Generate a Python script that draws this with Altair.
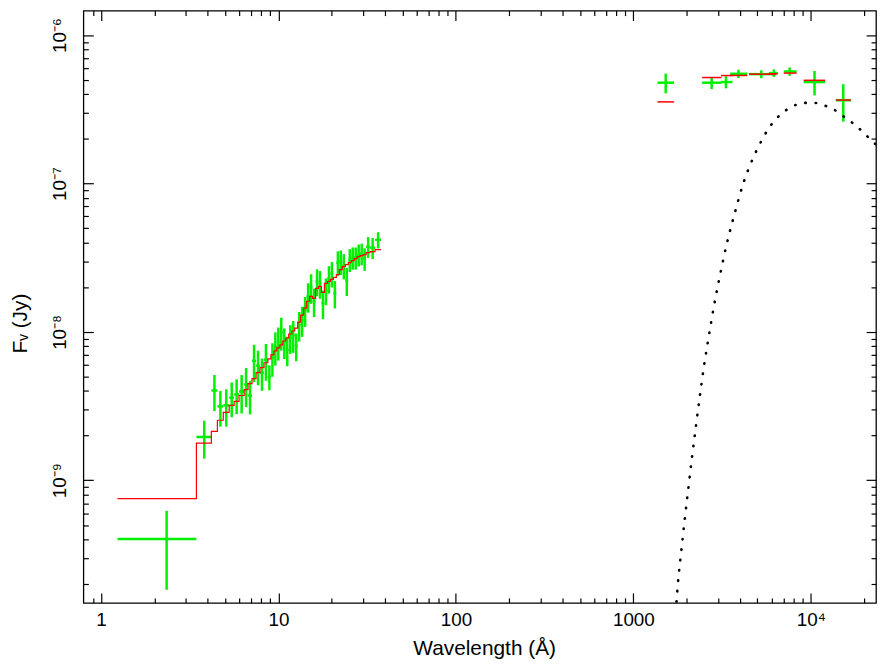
import altair as alt
import pandas as pd

# ---------------- data ----------------
# X-ray spectrum: bin edges (Angstrom), folded model, data and 1-sigma errors (Jy)
xray_edges = [1.24, 3.45, 4.19, 4.53, 4.89, 5.28, 5.63, 6.00, 6.41, 6.74, 7.10,
              7.48, 7.87, 8.29, 8.72, 9.07, 9.43, 9.79, 10.18, 10.58, 11.00,
              11.43, 11.88, 12.35, 12.84, 13.34, 13.87, 14.41, 14.98, 15.57,
              16.19, 16.82, 17.48, 18.17, 18.89, 19.63, 20.40, 21.21, 22.04,
              22.91, 23.81, 24.75, 25.72, 26.73, 27.79, 28.88, 30.02, 31.20,
              32.85, 35.04, 37.84]
xray_model = [7.52e-10, 1.78e-9, 2.14e-9, 2.54e-9, 2.87e-9, 3.20e-9, 3.40e-9,
              3.73e-9, 4.09e-9, 4.48e-9, 4.84e-9, 5.31e-9, 5.74e-9, 6.20e-9,
              6.59e-9, 7.01e-9, 7.45e-9, 7.80e-9, 8.18e-9, 8.69e-9, 9.10e-9,
              9.68e-9, 1.014e-8, 1.062e-8, 1.165e-8, 1.297e-8, 1.445e-8,
              1.609e-8, 1.738e-8, 1.685e-8, 1.965e-8, 2.027e-8, 1.848e-8,
              2.122e-8, 2.189e-8, 2.257e-8, 2.328e-8, 2.438e-8, 2.633e-8,
              2.757e-8, 2.843e-8, 2.933e-8, 3.024e-8, 3.119e-8, 3.217e-8,
              3.266e-8, 3.318e-8, 3.421e-8, 3.474e-8, 3.582e-8]
xray_flux = [4.03e-10, 1.96e-9, 4.03e-9, 3.15e-9, 3.20e-9, 3.61e-9, 3.79e-9,
             3.97e-9, 4.42e-9, 3.73e-9, 6.39e-9, 5.92e-9, 5.31e-9, 6.49e-9,
             4.99e-9, 6.69e-9, 7.93e-9, 8.56e-9, 9.98e-9, 8.56e-9, 7.57e-9,
             9.10e-9, 9.53e-9, 8.05e-9, 1.112e-8, 1.201e-8, 1.401e-8, 1.738e-8,
             1.996e-8, 1.609e-8, 2.189e-8, 2.122e-8, 1.56e-8, 1.905e-8,
             2.293e-8, 2.475e-8, 1.82e-8, 2.933e-8, 2.978e-8, 2.80e-8,
             2.223e-8, 3.071e-8, 3.168e-8, 3.168e-8, 3.318e-8, 3.37e-8,
             3.119e-8, 3.752e-8, 3.694e-8, 4.177e-8]
xray_err = [2.2e-10, 0.56e-9, 1.1e-9, 0.85e-9, 0.9e-9, 0.95e-9, 1.0e-9,
            1.15e-9, 1.3e-9, 0.95e-9, 1.8e-9, 1.55e-9, 1.3e-9, 1.8e-9, 0.95e-9,
            1.7e-9, 2.0e-9, 2.15e-9, 2.5e-9, 2.0e-9, 1.7e-9, 2.0e-9, 2.3e-9,
            1.7e-9, 2.5e-9, 2.75e-9, 3.2e-9, 3.9e-9, 4.5e-9, 3.5e-9, 4.5e-9,
            4.5e-9, 3.4e-9, 3.9e-9, 4.8e-9, 4.8e-9, 3.8e-9, 5.6e-9, 5.6e-9,
            5.4e-9, 4.8e-9, 5.4e-9, 5.4e-9, 5.4e-9, 5.6e-9, 5.6e-9, 5.4e-9,
            6.0e-9, 6.0e-9, 5.2e-9]

# UV / optical / IR photometry (Angstrom, Jy)
opt_lo = [1367, 2440, 3116, 3512, 4485, 5800, 7038, 9105, 13830]
opt_hi = [1693, 3140, 3618, 4388, 6348, 6513, 8321, 12040, 16820]
opt_center = [1521, 2761, 3323, 3908, 5254, 6187, 7602, 10490, 15230]
opt_flux = [4.78e-7, 4.78e-7, 4.83e-7, 5.49e-7, 5.46e-7, 5.55e-7, 5.69e-7,
            4.83e-7, 3.64e-7]
opt_err = [0.73e-7, 0.45e-7, 0.45e-7, 0.35e-7, 0.33e-7, 0.33e-7, 0.37e-7,
           0.9e-7, 1.03e-7]
opt_model = [3.55e-7, 5.18e-7, 5.34e-7, 5.35e-7, 5.46e-7, 5.49e-7, 5.55e-7,
             4.96e-7, 3.65e-7]

# dotted stellar (blackbody-like) component
bb_wave = [1719, 1783, 1861, 1943, 2037, 2135, 2247, 2367, 2502, 2669, 2858,
           3089, 3365, 3729, 4171, 4582, 5124, 5878, 7038, 7935, 9028, 10354,
           11776, 13395, 14913, 16605, 18484, 20398, 22413, 24500]
bb_flux = [1.10e-10, 2.03e-10, 3.31e-10, 5.34e-10, 8.68e-10, 1.40e-9, 2.27e-9,
           3.67e-9, 5.92e-9, 9.54e-9, 1.54e-8, 2.46e-8, 3.95e-8, 6.33e-8,
           1.01e-7, 1.36e-7, 1.82e-7, 2.42e-7, 3.04e-7, 3.32e-7, 3.49e-7,
           3.50e-7, 3.37e-7, 3.17e-7, 2.89e-7, 2.64e-7, 2.38e-7, 2.13e-7,
           1.90e-7, 1.76e-7]

# axis ticks and labels
x_ticks = [0.9, 1, 2, 3, 4, 5, 6, 7, 8, 9, 10, 20, 30, 40, 50, 60, 70, 80, 90,
           100, 200, 300, 400, 500, 600, 700, 800, 900, 1000, 2000, 3000, 4000,
           5000, 6000, 7000, 8000, 9000, 10000, 20000]
x_major_labels = {0: "1", 1: "10", 2: "100", 3: "1000", 4: "10⁴"}
y_ticks = [2e-10, 3e-10, 4e-10, 5e-10, 6e-10, 7e-10, 8e-10, 9e-10,
           1e-9, 2e-9, 3e-9, 4e-9, 5e-9, 6e-9, 7e-9, 8e-9, 9e-9,
           1e-8, 2e-8, 3e-8, 4e-8, 5e-8, 6e-8, 7e-8, 8e-8, 9e-8,
           1e-7, 2e-7, 3e-7, 4e-7, 5e-7, 6e-7, 7e-7, 8e-7, 9e-7, 1e-6]
y_major_labels = {-9: "10⁻⁹", -8: "10⁻⁸", -7: "10⁻⁷", -6: "10⁻⁶"}

# ---------------- tables ----------------
step_df = pd.DataFrame({"wave": xray_edges,
                        "flux": xray_model + [xray_model[-1]]})
xr_df = pd.DataFrame({"lo": xray_edges[:-1], "hi": xray_edges[1:],
                      "flux": xray_flux, "err": xray_err})
xr_df["center"] = (xr_df["lo"] + xr_df["hi"]) / 2
xr_df["ylo"] = xr_df["flux"] - xr_df["err"]
xr_df["yhi"] = xr_df["flux"] + xr_df["err"]

opt_df = pd.DataFrame({"lo": opt_lo, "hi": opt_hi, "center": opt_center,
                       "flux": opt_flux, "err": opt_err, "model": opt_model})
opt_df["ylo"] = opt_df["flux"] - opt_df["err"]
opt_df["yhi"] = opt_df["flux"] + opt_df["err"]

bb_df = pd.DataFrame({"wave": bb_wave, "flux": bb_flux})

green_df = pd.concat([xr_df[["lo", "hi", "center", "flux", "ylo", "yhi"]],
                      opt_df[["lo", "hi", "center", "flux", "ylo", "yhi"]]],
                     ignore_index=True)

# ---------------- scales / axes ----------------
XS = alt.Scale(type="log", domain=[0.7964, 23290], nice=False)
YS = alt.Scale(type="log", domain=[1.494e-10, 1.463e-6], nice=False)

L10 = "(log(datum.value)/LN10)"
MAJ = f"abs({L10} - round({L10})) < 1e-6"
EXP = f"round({L10})"
TICK = {"expr": f"{MAJ} ? -10 : -5"}


def label_expr(mapping):
    inner = "''"
    for k in sorted(mapping, reverse=True):
        inner = f"{EXP} == {k} ? '{mapping[k]}' : ({inner})"
    return f"{MAJ} ? ({inner}) : ''"


x_bottom = alt.Axis(title="Wavelength (Å)", values=x_ticks,
                    labelExpr=label_expr(x_major_labels), tickSize=TICK,
                    labelPadding=18, domain=False, grid=False,
                    labelOverlap=False, labelFlush=False,
                    titleX=404, titleY=52, titleBaseline="alphabetic",
                    titleAlign="center")
x_top = alt.Axis(orient="top", title=None, values=x_ticks, labels=False,
                 tickSize=TICK, domain=False, grid=False)
y_left = alt.Axis(title="F\u1d65 (Jy)", values=y_ticks,
                  labelExpr=label_expr(y_major_labels), tickSize=TICK,
                  labelPadding=24, labelAngle=270, labelAlign="center",
                  labelBaseline="bottom", domain=False, grid=False,
                  labelOverlap=False, labelFlush=False,
                  titleAngle=270, titleX=-57, titleY=315,
                  titleBaseline="alphabetic", titleAlign="center")
y_right = alt.Axis(orient="right", title=None, values=y_ticks, labels=False,
                   tickSize=TICK, domain=False, grid=False)

GREEN = "#00f000"
RED = "#ff0000"

green_v = alt.Chart(green_df).mark_rule(color=GREEN, strokeWidth=2.5).encode(
    x=alt.X("center:Q", scale=XS, axis=None),
    y=alt.Y("ylo:Q", scale=YS, axis=None),
    y2="yhi:Q")
green_h = alt.Chart(green_df).mark_rule(color=GREEN, strokeWidth=2.5).encode(
    x=alt.X("lo:Q", scale=XS, axis=None),
    x2="hi:Q",
    y=alt.Y("flux:Q", scale=YS, axis=None))
red_step = alt.Chart(step_df).mark_line(
    color=RED, strokeWidth=1.2, interpolate="step-after", clip=True).encode(
    x=alt.X("wave:Q", scale=XS, axis=x_bottom),
    y=alt.Y("flux:Q", scale=YS, axis=y_left))
red_opt = alt.Chart(opt_df).mark_rule(color=RED, strokeWidth=1.5).encode(
    x=alt.X("lo:Q", scale=XS, axis=None),
    x2="hi:Q",
    y=alt.Y("model:Q", scale=YS, axis=None))
dotted = alt.Chart(bb_df).mark_line(
    color="black", strokeWidth=2.6, strokeDash=[0.5, 10], strokeCap="round",
    interpolate="monotone", clip=True).encode(
    x=alt.X("wave:Q", scale=XS, axis=x_top),
    y=alt.Y("flux:Q", scale=YS, axis=y_right))

chart = alt.layer(green_v, green_h, red_step, red_opt, dotted).resolve_axis(
    x="independent", y="independent"
).properties(
    width=799, height=597,
    autosize=alt.AutoSizeParams(type="none"),
    padding={"left": 76, "top": 0, "right": 1, "bottom": 57},
).configure_view(
    stroke="black", strokeWidth=1.3
).configure_axis(
    labelFont="Liberation Sans", titleFont="Liberation Sans",
    labelFontSize=19, titleFontSize=21, titleFontWeight="normal",
    labelColor="black", titleColor="black", tickColor="black", tickWidth=1.2
)

chart.save("out.html", embed_options={"renderer": "svg", "actions": False})
